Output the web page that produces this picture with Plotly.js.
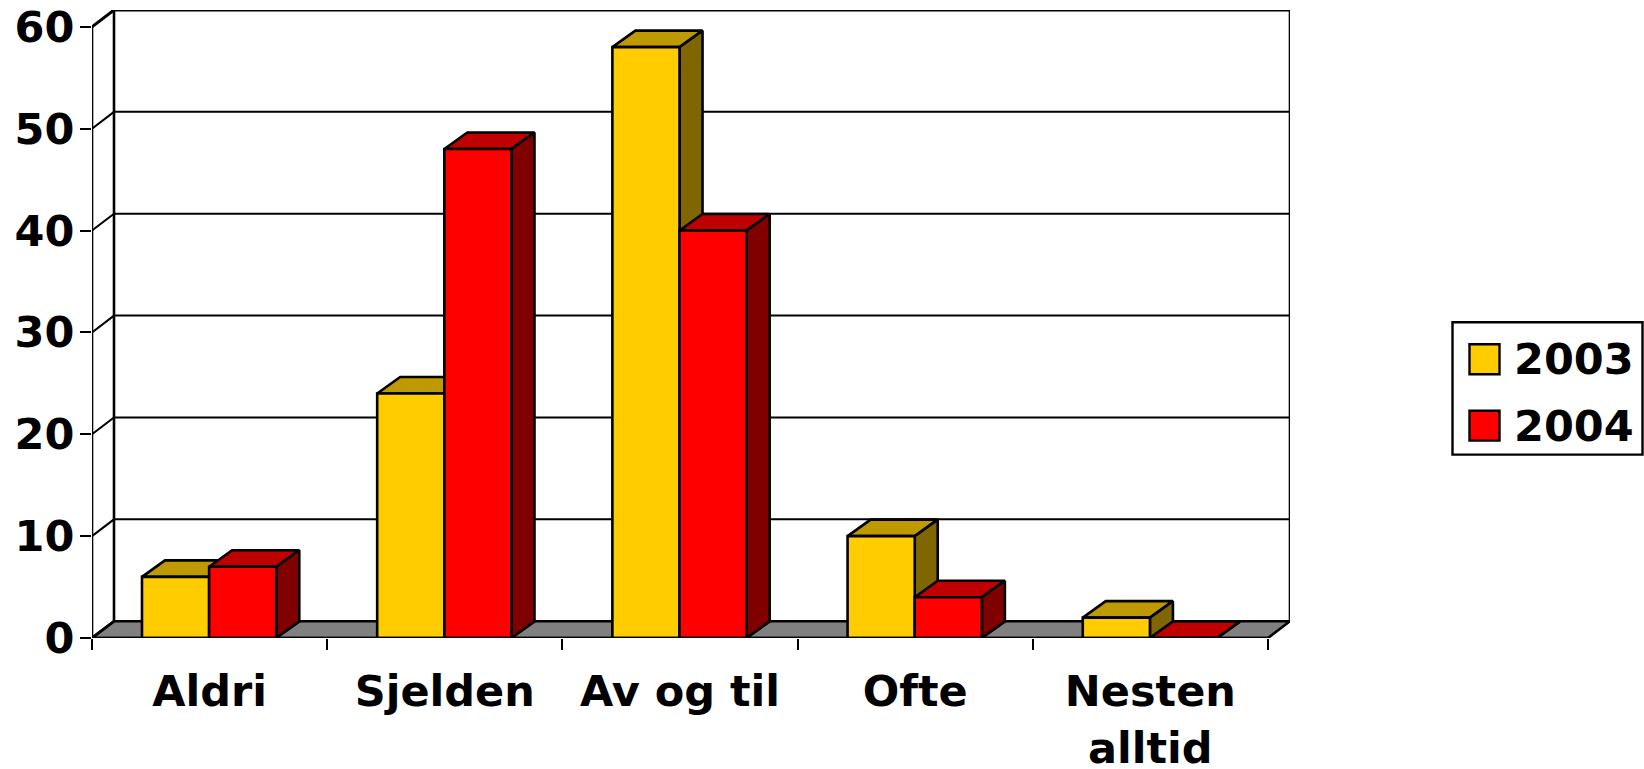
<!DOCTYPE html>
<html>
<head>
<meta charset="utf-8">
<script src="https://cdn.plot.ly/plotly-3.0.1.min.js"></script>
<style>html,body{margin:0;padding:0;background:#fff;overflow:hidden}</style>
</head>
<body>
<div id="chart" style="width:1644px;height:769px"></div>
<script>
// Survey answers per category, one array per year
const categories = ['Aldri', 'Sjelden', 'Av og til', 'Ofte', 'Nesten'];
const categoryContinuation = ['', '', '', '', 'alltid'];
const series2003 = [6, 24, 58, 10, 2];
const series2004 = [7, 48, 40, 4, 0];
const yTicks = [0, 10, 20, 30, 40, 50, 60];
const yearNames = ['2003', '2004'];

// Face colours for the pseudo-3D columns: front, top, side
const yellowFaces = ['#FFCC00', '#BF9900', '#806600'];
const redFaces = ['#FF0000', '#BF0000', '#800000'];

// Oblique depth of the box and of the columns, expressed in axis units
const depthX = 22 / 235.2;
const depthY = 16.8 / 10.19;
const barDepthX = 23 / 235.2;
const barDepthY = 16.5 / 10.19;
const yMax = yTicks[yTicks.length - 1];
const nCat = categories.length;
const barStart = 0.2125;
const barWidth = 0.2855;
const FONT = {family: '"DejaVu Sans", Verdana, sans-serif', size: 43, color: '#000', weight: 700};
const EDGE = 2.6;

function poly(xs, ys, fill, width, color) {
  return {
    type: 'scatter', mode: 'lines', x: xs, y: ys, cliponaxis: false,
    fill: fill ? 'toself' : 'none', fillcolor: fill || undefined,
    line: {color: color || '#000', width: width === undefined ? EDGE : width},
    hoverinfo: 'skip', showlegend: false
  };
}

const traces = [];

// Floor of the box
traces.push(poly([0, nCat, nCat + depthX, depthX, 0], [0, 0, depthY, depthY, 0], '#808080', EDGE));

// Gridlines wrap from the left wall onto the back wall
yTicks.forEach(v => {
  if (v === 0) return;
  traces.push(poly([0, depthX, nCat + depthX], [v, v + depthY, v + depthY], null, v === yMax ? 3 : 2));
});

// Wall edges and the front axis line
traces.push(poly([0, 0], [0, yMax], null, EDGE));
traces.push(poly([depthX, depthX], [depthY, yMax + depthY], null, EDGE));
traces.push(poly([nCat + depthX, nCat + depthX], [depthY, yMax + depthY], null, EDGE));
traces.push(poly([0, depthX], [0, depthY], null, EDGE));

// One column: top and side first, then the front face over them
function column(x0, x1, v, faces) {
  const dx = barDepthX, dy = barDepthY;
  traces.push(poly([x0, x1, x1 + dx, x0 + dx, x0], [v, v, v + dy, v + dy, v], faces[1]));
  traces.push(poly([x1, x1 + dx, x1 + dx, x1, x1], [0, dy, v + dy, v, 0], faces[2]));
  traces.push(poly([x0, x1, x1, x0, x0], [0, 0, v, v, 0], faces[0]));
}

categories.forEach((_, i) => {
  const a = i + barStart, b = a + barWidth, c = b + barWidth;
  column(a, b, series2003[i], yellowFaces);
  column(b, c, series2004[i], redFaces);
});

// Front edge of the floor sits above the column bases
traces.push(poly([0, nCat], [0, 0], null, EDGE));

const W = 1644, H = 769;
const margin = {l: 92, r: W - 1290, t: 10, b: H - 638.5, pad: 0};
const plotW = W - margin.l - margin.r, plotH = H - margin.t - margin.b;
// Convert page pixels into paper fractions of the plot area
const paperX = x => (x - margin.l) / plotW;
const paperY = y => 1 - (y - margin.t) / plotH;
function legendRect(x0, y0, x1, y1, fill, width) {
  return {type: 'rect', xref: 'paper', yref: 'paper', x0: paperX(x0), x1: paperX(x1), y0: paperY(y0), y1: paperY(y1),
          fillcolor: fill, line: {color: '#000', width: width}};
}

const legendLabels = yearNames.map((name, i) => ({
  xref: 'paper', yref: 'paper', x: paperX(1511.5), y: paperY(359.5 + i * 66.5),
  xanchor: 'left', yanchor: 'middle', showarrow: false, text: name, font: FONT
}));

// Second line of a two-line category label, kept on a wider line pitch than tick text
const categorySecondLines = categoryContinuation.map((text, i) => ({
  xref: 'x', yref: 'paper', x: i + 0.5, y: paperY(749),
  xanchor: 'center', yanchor: 'middle', showarrow: false, text: text, font: FONT
})).filter(a => a.text);

const layout = {
  width: W, height: H, autosize: false, margin,
  paper_bgcolor: '#fff', plot_bgcolor: 'rgba(0,0,0,0)',
  showlegend: false,
  font: FONT,
  xaxis: {
    range: [0, nCat + depthX], showgrid: false, zeroline: false, showline: false, fixedrange: true,
    tickmode: 'array', tickvals: categories.map((_, i) => i + 0.5), ticktext: categories,
    ticks: '', tickangle: 0, ticklabelstandoff: 24, tickfont: FONT,
    minor: {tickmode: 'array', tickvals: categories.map((_, i) => i).concat([nCat]),
            ticks: 'outside', ticklen: 11, tickwidth: 2.4, tickcolor: '#000', showgrid: false}
  },
  yaxis: {
    range: [0, yMax + depthY], showgrid: false, zeroline: false, showline: false, fixedrange: true,
    tickmode: 'array', tickvals: yTicks, ticktext: yTicks.map(String),
    ticks: 'outside', ticklen: 11, tickwidth: 2.4, tickcolor: '#000', tickfont: FONT,
    ticklabelstandoff: -3
  },
  shapes: [
    legendRect(1452.5, 322.5, 1642.5, 455, '#fff', 2.4),
    legendRect(1469.5, 344.5, 1499.5, 374.5, yellowFaces[0], 2.4),
    legendRect(1469.5, 411, 1499.5, 441, redFaces[0], 2.4)
  ],
  annotations: legendLabels.concat(categorySecondLines)
};

Plotly.newPlot('chart', traces, layout, {displayModeBar: false, responsive: false});
</script>
</body>
</html>
